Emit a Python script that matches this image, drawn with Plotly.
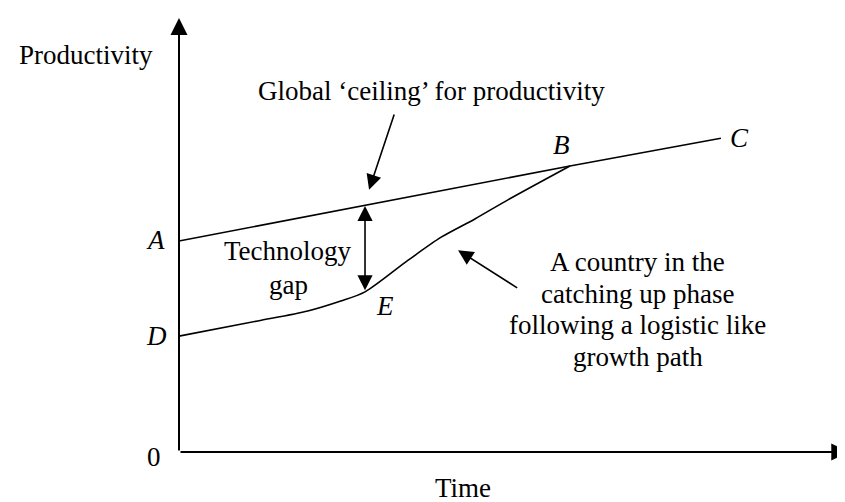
import plotly.graph_objects as go

# data space: time 0..10, productivity 0..10
ceiling_time = [0, 5.80, 8.04]
ceiling_prod = [4.86, 6.59, 7.23]

country_time = [0, 1.17, 1.91, 2.40, 2.76, 3.40, 3.89, 4.39, 4.88, 5.80]
country_prod = [2.67, 3.02, 3.25, 3.48, 3.69, 4.42, 4.95, 5.37, 5.81, 6.59]

point_names = ['A', 'B', 'C', 'D', 'E']
point_x = [-0.356, 5.67, 8.32, -0.34, 3.06]
point_y = [4.88, 7.07, 7.23, 2.67, 3.36]

gap_time = 2.76
gap_top = 5.67
gap_bottom = 3.69

country_lines = ['A country in the', 'catching up phase',
                 'following a logistic like', 'growth path']
country_line_y = [4.37, 3.63, 2.92, 2.19]

FONT = "Liberation Serif, Times New Roman, serif"
FS = 27

fig = go.Figure()

fig.add_trace(go.Scatter(x=ceiling_time, y=ceiling_prod, mode='lines',
                         line=dict(color='black', width=1.6),
                         showlegend=False, hoverinfo='skip'))
fig.add_trace(go.Scatter(x=country_time, y=country_prod, mode='lines',
                         line=dict(color='black', width=1.6, shape='spline', smoothing=0.8),
                         showlegend=False, hoverinfo='skip'))

annotations = []

# axes with arrow heads
annotations.append(dict(x=0, y=10, ax=0, ay=0, xref='x', yref='y', axref='x', ayref='y',
                        showarrow=True, arrowhead=2, arrowsize=1.7, arrowwidth=2,
                        arrowcolor='black', text='', standoff=0))
annotations.append(dict(x=9.93, y=0, ax=0, ay=0, xref='x', yref='y', axref='x', ayref='y',
                        showarrow=True, arrowhead=2, arrowsize=1.7, arrowwidth=2,
                        arrowcolor='black', text='', standoff=0))

# pointer to ceiling
annotations.append(dict(x=2.82, y=6.04, ax=3.20, ay=7.81, xref='x', yref='y', axref='x', ayref='y',
                        showarrow=True, arrowhead=2, arrowsize=1.9, arrowwidth=1.6,
                        arrowcolor='black', text='', standoff=0))
# pointer to country curve
annotations.append(dict(x=4.14, y=4.65, ax=5.04, ay=3.76, xref='x', yref='y', axref='x', ayref='y',
                        showarrow=True, arrowhead=2, arrowsize=1.9, arrowwidth=1.6,
                        arrowcolor='black', text='', standoff=0))
# technology gap double arrow
annotations.append(dict(x=gap_time, y=gap_top, ax=gap_time, ay=gap_bottom, xref='x', yref='y',
                        axref='x', ayref='y', showarrow=True, arrowhead=2, startarrowhead=2,
                        arrowside='end+start', arrowsize=1.9, startarrowsize=1.9, arrowwidth=1.6,
                        arrowcolor='black', text='', standoff=0, startstandoff=0))

for name, px_, py_ in zip(point_names, point_x, point_y):
    annotations.append(dict(x=px_, y=py_, xref='x', yref='y', text='<i>' + name + '</i>',
                            showarrow=False, font=dict(family=FONT, size=FS, color='black')))

texts = [
    (-1.38, 9.15, 'Productivity'),
    (3.74, 8.32, 'Global \u2018ceiling\u2019 for productivity'),
    (4.21, -0.82, 'Time'),
    (-0.37, -0.115, '0'),
    (1.62, 4.62, 'Technology'),
    (1.62, 3.84, 'gap'),
]
for tx, ty, t in texts:
    annotations.append(dict(x=tx, y=ty, xref='x', yref='y', text=t, showarrow=False,
                            font=dict(family=FONT, size=FS, color='black')))

for line, ly in zip(country_lines, country_line_y):
    annotations.append(dict(x=6.81, y=ly, xref='x', yref='y', text=line, showarrow=False,
                            font=dict(family=FONT, size=FS, color='black')))

fig.update_layout(width=845, height=502,
                  margin=dict(l=0, r=0, t=0, b=0),
                  plot_bgcolor='white', paper_bgcolor='white',
                  annotations=annotations,
                  xaxis=dict(range=[-2.537, 10.0], visible=False, fixedrange=True),
                  yaxis=dict(range=[-1.336, 10.23], visible=False, fixedrange=True))

fig.write_html("out.html")
